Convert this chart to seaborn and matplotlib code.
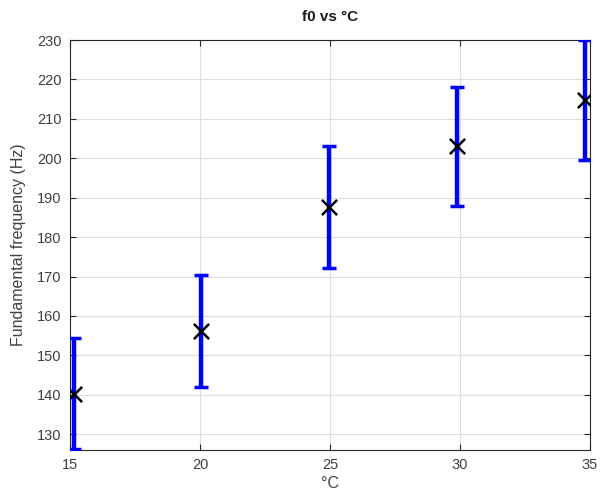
import matplotlib
matplotlib.use("Agg")
import matplotlib.pyplot as plt
import seaborn as sns
import pandas as pd

temps = [15.15, 20.05, 24.97, 29.88, 34.8]
f0_mean = [140.3, 156.2, 187.6, 203.0, 214.8]
f0_err = [14.1, 14.2, 15.4, 15.2, 15.3]
x_ticks = [15, 20, 25, 30, 35]
y_ticks = [130, 140, 150, 160, 170, 180, 190, 200, 210, 220, 230]

df = pd.DataFrame({"temp": temps, "f0": f0_mean, "err": f0_err})

sns.set_theme(style="white")
plt.rcParams["font.family"] = ["Liberation Sans", "DejaVu Sans"]

fig = plt.figure(figsize=(6.0, 4.93), dpi=100)
ax = fig.add_axes([70/600, 1-450/493, 520/600, 410/493])

ax.errorbar(df["temp"], df["f0"], yerr=df["err"], fmt="none",
            ecolor="#0000ff", elinewidth=3.2, capsize=5, capthick=2.5, zorder=3)
sns.scatterplot(data=df, x="temp", y="f0", marker="x", color="black",
                s=120, linewidth=1.8, ax=ax, zorder=4)

ax.set_xlim(15, 35)
ax.set_ylim(126.0, 230)
ax.set_xticks(x_ticks)
ax.set_yticks(y_ticks)
ax.grid(True, color="#dedede", linewidth=0.8)
ax.set_axisbelow(True)
for s in ax.spines.values():
    s.set_color("#262626")
    s.set_linewidth(0.8)
ax.tick_params(direction="in", length=4, width=0.8, color="#262626",
               labelsize=10.5, labelcolor="#404040", top=True, right=True,
               bottom=True, left=True, pad=6)
ax.set_title("f0 vs °C", fontsize=11, fontweight="bold", pad=14, color="#1a1a1a")
ax.set_xlabel("°C", fontsize=11.5, color="#404040", labelpad=3)
ax.set_ylabel("Fundamental frequency (Hz)", fontsize=11.5, color="#404040", labelpad=8)

fig.savefig("out.png", dpi=100)
